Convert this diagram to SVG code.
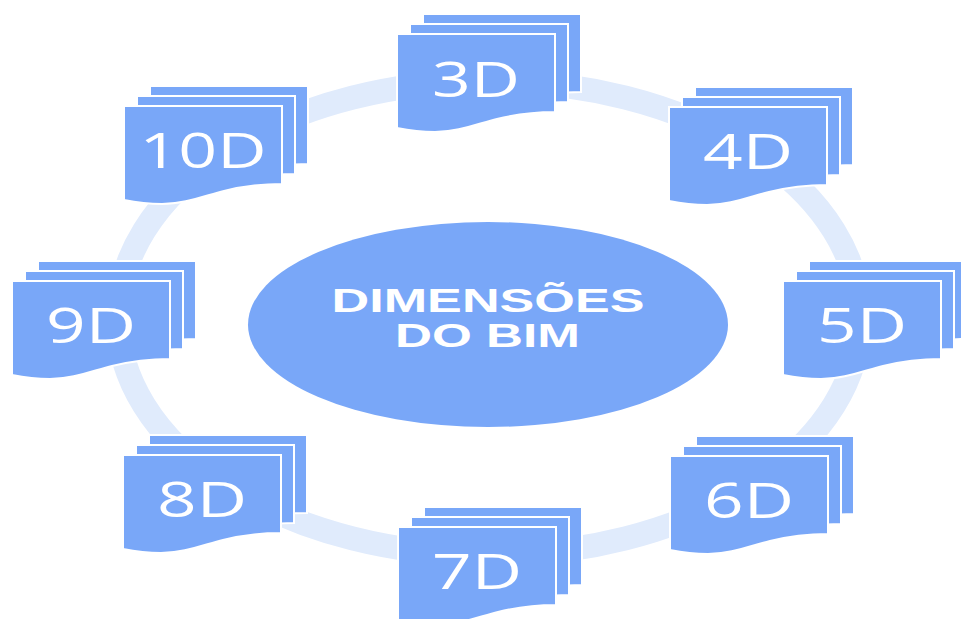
<svg xmlns="http://www.w3.org/2000/svg" xmlns:xlink="http://www.w3.org/1999/xlink" width="961" height="619" viewBox="0 0 961 619">
<style>
.pg{fill:#79A7F8;stroke:#FFFFFF;stroke-width:2}
.lbl{fill:#FFFFFF;font-family:"Open Sans","DejaVu Sans",sans-serif;font-size:49px;text-anchor:middle}
.ctr{fill:#FFFFFF;font-family:"Liberation Sans",Arial,sans-serif;font-weight:bold;font-size:33px;text-anchor:middle}
</style>
<defs>
<path id="page" d="M0,0 H158 V78 C140,78 120,80 100,85 C80,90 60,98 38,98 C25,98 15,97 0,94 Z"/>
<g id="stack">
<use xlink:href="#page" class="pg" transform="translate(26,-20)"/>
<use xlink:href="#page" class="pg" transform="translate(13,-10)"/>
<use xlink:href="#page" class="pg"/>
</g>
</defs>
<rect width="961" height="619" fill="#FFFFFF"/>
<g id="connectors">
<ellipse cx="489" cy="318" rx="371" ry="237" fill="none" stroke="#E0EBFC" stroke-width="24"/>
</g>
<g id="center">
<ellipse cx="488" cy="324.5" rx="240" ry="102.5" fill="#79A7F8"/>
<text class="ctr" x="488" y="312" textLength="313" lengthAdjust="spacingAndGlyphs">DIMENSÕES</text>
<text class="ctr" x="487.5" y="347" textLength="185" lengthAdjust="spacingAndGlyphs">DO BIM</text>
</g>
<g id="n3D" transform="translate(397,34)">
<use xlink:href="#stack"/>
<text class="lbl" x="79" y="63" textLength="88" lengthAdjust="spacingAndGlyphs">3D</text>
</g>
<g id="n4D" transform="translate(669,107)">
<use xlink:href="#stack"/>
<text class="lbl" x="79" y="62" textLength="90" lengthAdjust="spacingAndGlyphs">4D</text>
</g>
<g id="n5D" transform="translate(783,281)">
<use xlink:href="#stack"/>
<text class="lbl" x="79" y="62" textLength="90" lengthAdjust="spacingAndGlyphs">5D</text>
</g>
<g id="n6D" transform="translate(670,456)">
<use xlink:href="#stack"/>
<text class="lbl" x="79" y="62" textLength="90" lengthAdjust="spacingAndGlyphs">6D</text>
</g>
<g id="n7D" transform="translate(398,527)">
<use xlink:href="#stack"/>
<text class="lbl" x="79" y="62" textLength="90" lengthAdjust="spacingAndGlyphs">7D</text>
</g>
<g id="n8D" transform="translate(123,455)">
<use xlink:href="#stack"/>
<text class="lbl" x="79" y="62" textLength="90" lengthAdjust="spacingAndGlyphs">8D</text>
</g>
<g id="n9D" transform="translate(12,281)">
<use xlink:href="#stack"/>
<text class="lbl" x="79" y="62" textLength="90" lengthAdjust="spacingAndGlyphs">9D</text>
</g>
<g id="n10D" transform="translate(124,106)">
<use xlink:href="#stack"/>
<text class="lbl" x="79" y="62" textLength="127" lengthAdjust="spacingAndGlyphs">10D</text>
</g>
</svg>
